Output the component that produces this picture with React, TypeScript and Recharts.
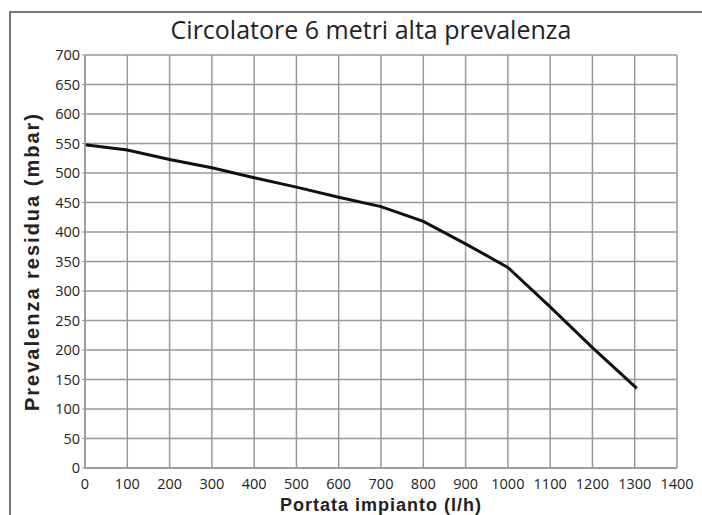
import { LineChart, Line, XAxis, YAxis, CartesianGrid } from "recharts";

const portata = [0, 100, 200, 300, 400, 500, 600, 700, 800, 900, 1000, 1100, 1200, 1305];
const prevalenza = [548, 539, 523, 509, 492, 476, 459, 443, 418, 380, 340, 273, 204, 135];

const xTicks = [0, 100, 200, 300, 400, 500, 600, 700, 800, 900, 1000, 1100, 1200, 1300, 1400];
const yTicks = [0, 50, 100, 150, 200, 250, 300, 350, 400, 450, 500, 550, 600, 650, 700];

const data = portata.map((q, i) => ({ q, p: prevalenza[i] }));

const tickStyle = { fontFamily: "Open Sans", fontSize: 14.5, fill: "#222" };
const labelFont = "Liberation Sans";

export default function App() {
  return (
    <div style={{ position: "absolute", left: 0, top: 0, width: 702, height: 515, background: "#fff", overflow: "hidden" }}>
      <div
        style={{
          position: "absolute",
          left: 9,
          top: 11,
          width: 702,
          height: 520,
          borderTop: "2px solid #777",
          borderLeft: "2px solid #777",
        }}
      />
      <div
        style={{
          position: "absolute",
          left: 0,
          top: 12,
          width: 742,
          textAlign: "center",
          fontFamily: "Open Sans",
          fontSize: 25,
          lineHeight: "34px",
          color: "#222",
        }}
      >
        Circolatore 6 metri alta prevalenza
      </div>
      <div style={{ position: "absolute", left: 0, top: 0 }}>
        <LineChart width={702} height={515} data={data} margin={{ top: 55, right: 25, left: 0, bottom: 0 }}>
          <CartesianGrid stroke="#999" strokeWidth={1.5} horizontalValues={yTicks} verticalValues={xTicks} />
          <XAxis
            dataKey="q"
            type="number"
            domain={[0, 1400]}
            ticks={xTicks}
            interval={0}
            height={47}
            tick={tickStyle}
            tickLine={false}
            axisLine={{ stroke: "#999", strokeWidth: 1.5 }}
            tickMargin={5}
            label={{
              value: "Portata impianto (l/h)",
              position: "insideBottom",
              offset: 4,
              style: { fontFamily: labelFont, fontWeight: "bold", fontSize: 18, letterSpacing: 1, fill: "#222" },
            }}
          />
          <YAxis
            type="number"
            domain={[0, 700]}
            ticks={yTicks}
            interval={0}
            width={85}
            tick={tickStyle}
            tickSize={3}
            tickMargin={2}
            tickLine={{ stroke: "#999" }}
            axisLine={{ stroke: "#999", strokeWidth: 1.5 }}
            label={{
              value: "Prevalenza residua (mbar)",
              angle: -90,
              position: "insideLeft",
              offset: 32,
              style: { textAnchor: "middle", fontFamily: labelFont, fontWeight: "bold", fontSize: 20, letterSpacing: 2, fill: "#222" },
            }}
          />
          <Line
            type="linear"
            dataKey="p"
            stroke="#111"
            strokeWidth={3}
            dot={false}
            isAnimationActive={false}
          />
        </LineChart>
      </div>
    </div>
  );
}
